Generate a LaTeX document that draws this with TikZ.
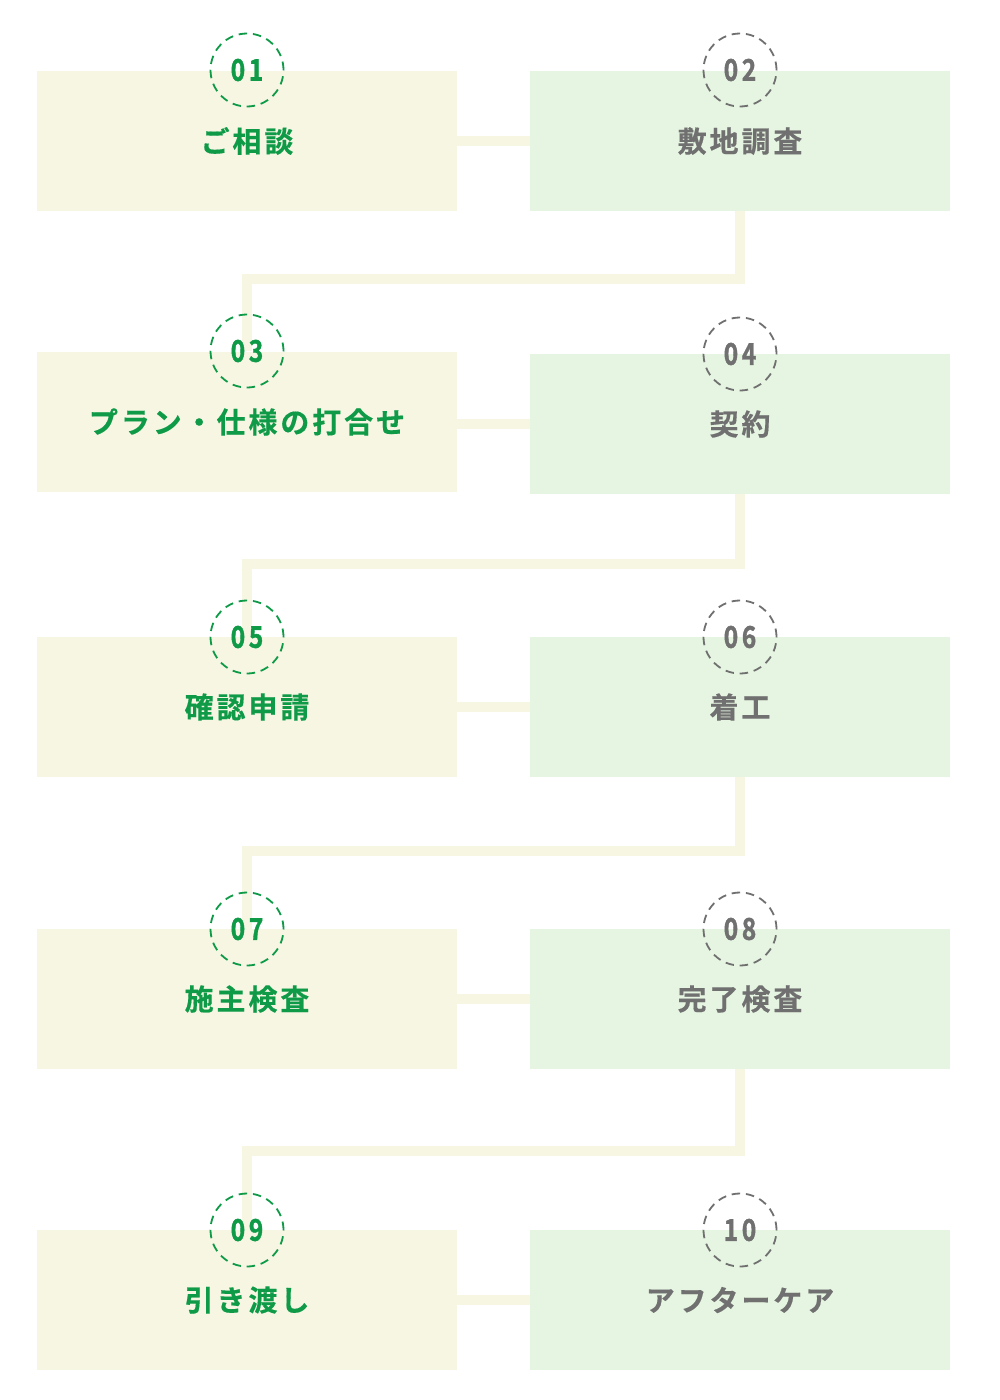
\documentclass[tikz,border=0pt]{standalone}
\usepackage{fontspec}
\usetikzlibrary{backgrounds}
\newfontfamily\jpfont{Noto Sans CJK JP Bold}[LetterSpace=10,FakeBold=0.4]
\newfontfamily\numfont{Noto Sans CJK JP Bold}[FakeStretch=0.82,LetterSpace=12,FakeBold=1.2]
\definecolor{lfill}{HTML}{F6F6E3}
\definecolor{rfill}{HTML}{E6F5E2}
\definecolor{cfill}{HTML}{F6F6E3}
\definecolor{tgreen}{HTML}{0E9A47}
\definecolor{tgray}{HTML}{707070}
\begin{document}
\begin{tikzpicture}[x=1pt,y=-1pt,
  boxbase/.style={minimum width=420pt,minimum height=140pt,inner sep=0pt,outer sep=0pt},
  lbox/.style={boxbase,fill=lfill},
  rbox/.style={boxbase,fill=rfill},
  conn/.style={draw=cfill,line width=10pt,line join=miter},
  numc/.style={circle,line width=1.8pt,dash pattern=on 8.5pt off 5.8pt,minimum size=73pt,inner sep=0pt,
    font=\numfont\fontsize{30}{30}\selectfont},
  gnum/.style={numc,draw=tgreen,text=tgreen},
  rnum/.style={numc,draw=tgray,text=tgray},
  lab/.style={inner sep=0pt,font=\jpfont\fontsize{29}{29}\selectfont},
  glab/.style={lab,text=tgreen},
  rlab/.style={lab,text=tgray}]
\useasboundingbox (0,0) rectangle (1000,1400);
% boxes
\node[lbox] (b1) at (247,141) {};
\node[rbox] (b2) at (740,141) {};
\node[lbox] (b3) at (247,422) {};
\node[rbox] (b4) at (740,424) {};
\node[lbox] (b5) at (247,707) {};
\node[rbox] (b6) at (740,707) {};
\node[lbox] (b7) at (247,999) {};
\node[rbox] (b8) at (740,999) {};
\node[lbox] (b9) at (247,1300) {};
\node[rbox] (b10) at (740,1300) {};
% circles
\node[gnum] (c1) at (247,70) {01};
\node[rnum] (c2) at (740,70) {02};
\node[gnum] (c3) at (247,351) {03};
\node[rnum] (c4) at (740,354) {04};
\node[gnum] (c5) at (247,637) {05};
\node[rnum] (c6) at (740,637) {06};
\node[gnum] (c7) at (247,929) {07};
\node[rnum] (c8) at (740,929) {08};
\node[gnum] (c9) at (247,1230) {09};
\node[rnum] (c10) at (740,1230) {10};
% labels
\node[glab] (t1) at (b1.center) {ご相談};
\node[rlab] (t2) at (b2.center) {敷地調査};
\node[glab] (t3) at (b3.center) {プラン・仕様の打合せ};
\node[rlab] (t4) at (b4.center) {契約};
\node[glab] (t5) at (b5.center) {確認申請};
\node[rlab] (t6) at (b6.center) {着工};
\node[glab] (t7) at (b7.center) {施主検査};
\node[rlab] (t8) at (b8.center) {完了検査};
\node[glab] (t9) at (b9.center) {引き渡し};
\node[rlab] (t10) at (b10.center) {アフターケア};
% connectors
\coordinate (k1) at (740,279);
\coordinate (k2) at (740,564);
\coordinate (k3) at (740,851);
\coordinate (k4) at (740,1151);
\begin{pgfonlayer}{background}
\draw[conn] (b1.center) -- (b2.center);
\draw[conn] (b3.center |- b4.center) -- (b4.center);
\draw[conn] (b5.center) -- (b6.center);
\draw[conn] (b7.center) -- (b8.center);
\draw[conn] (b9.center) -- (b10.center);
\draw[conn] (b2.center) -- (k1) -| (c3.center);
\draw[conn] (b4.center) -- (k2) -| (c5.center);
\draw[conn] (b6.center) -- (k3) -| (c7.center);
\draw[conn] (b8.center) -- (k4) -| (c9.center);
\end{pgfonlayer}
\end{tikzpicture}
\end{document}
